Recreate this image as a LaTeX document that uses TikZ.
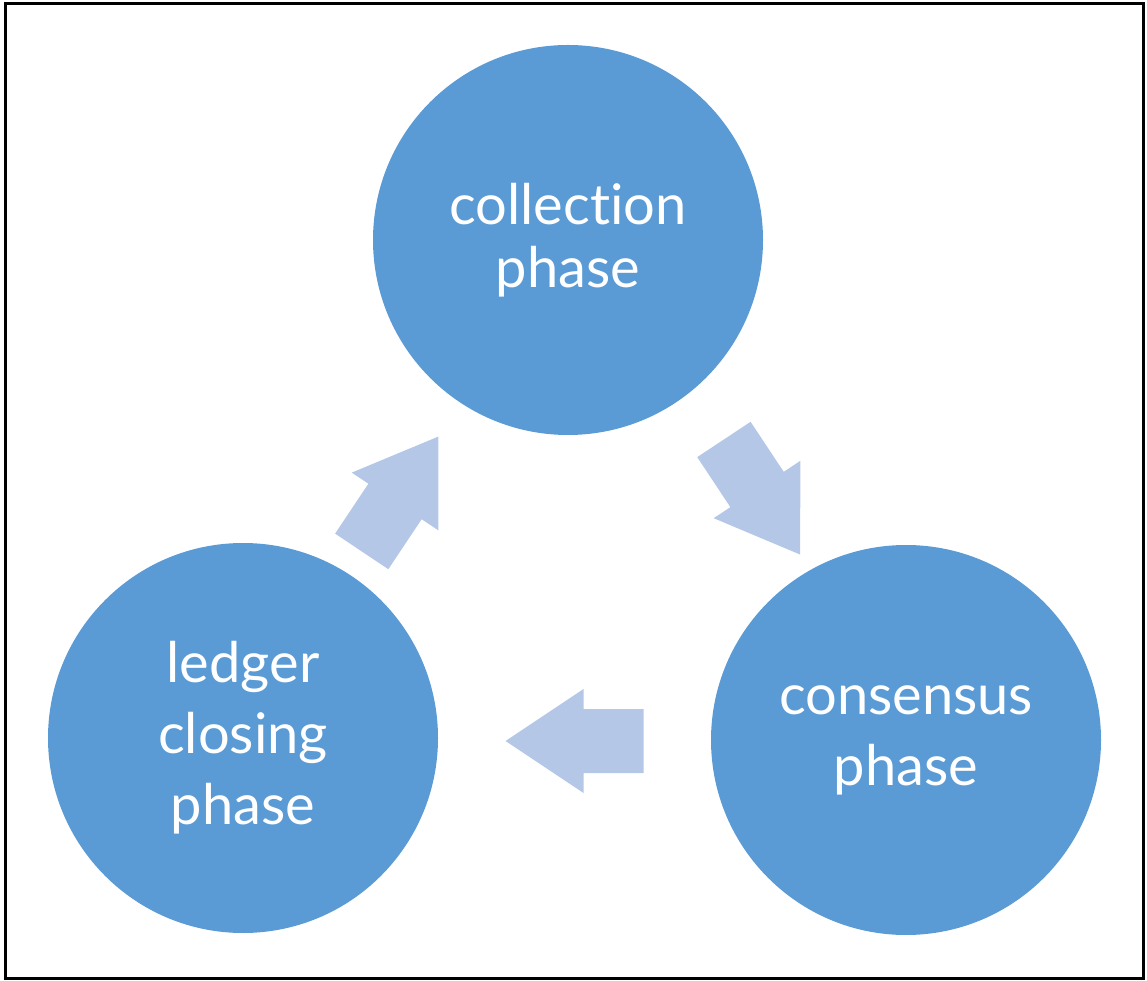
\documentclass[tikz,border=0pt]{standalone}
\usepackage{fontspec}
\setmainfont{Lato}[Ligatures=NoCommon]
\usepackage{tikz}
\usetikzlibrary{positioning,calc}
\definecolor{phaseblue}{RGB}{91,155,213}
\definecolor{arrowblue}{RGB}{180,199,231}

\tikzset{
  phase/.style={circle, fill=phaseblue, draw=none, minimum size=390pt, inner sep=0pt,
    text=white, align=center, font=\fontsize{56}{63}\selectfont},
  flow/.style={fill=arrowblue, draw=none}
}
% block arrow: name, centre, direction
\newcommand{\phasearrow}[3]{%
  \coordinate (#1) at (#2);
  \fill[flow, shift={(#1)}, rotate=#3]
    (-69pt,-32pt) -- (-9pt,-32pt) -- (-9pt,-52pt) -- (69pt,0pt)
    -- (-9pt,52pt) -- (-9pt,32pt) -- (-69pt,32pt) -- cycle;
}

\begin{document}
\begin{tikzpicture}[x=1pt, y=1pt]
  \useasboundingbox (0,0) rectangle (1147,980);
  % frame
  \draw[line width=3pt] (5.5,1.5) rectangle (1143.5,976.5);
  % the three phases
  \node[phase] (collect) at (568,740) {collection\\phase};
  \node[phase, font=\fontsize{56}{71}\selectfont] (consensus) at (906,240) {consensus\\phase};
  \node[phase, font=\fontsize{56}{71}\selectfont] (closing) at (243,242) {ledger\\closing\\phase};
  % arrows between them
  \phasearrow{toconsensus}{762,483}{-56.5}
  \phasearrow{toclosing}{574.5,239}{180}
  \phasearrow{tocollect}{400,486}{56.3}
\end{tikzpicture}
\end{document}
